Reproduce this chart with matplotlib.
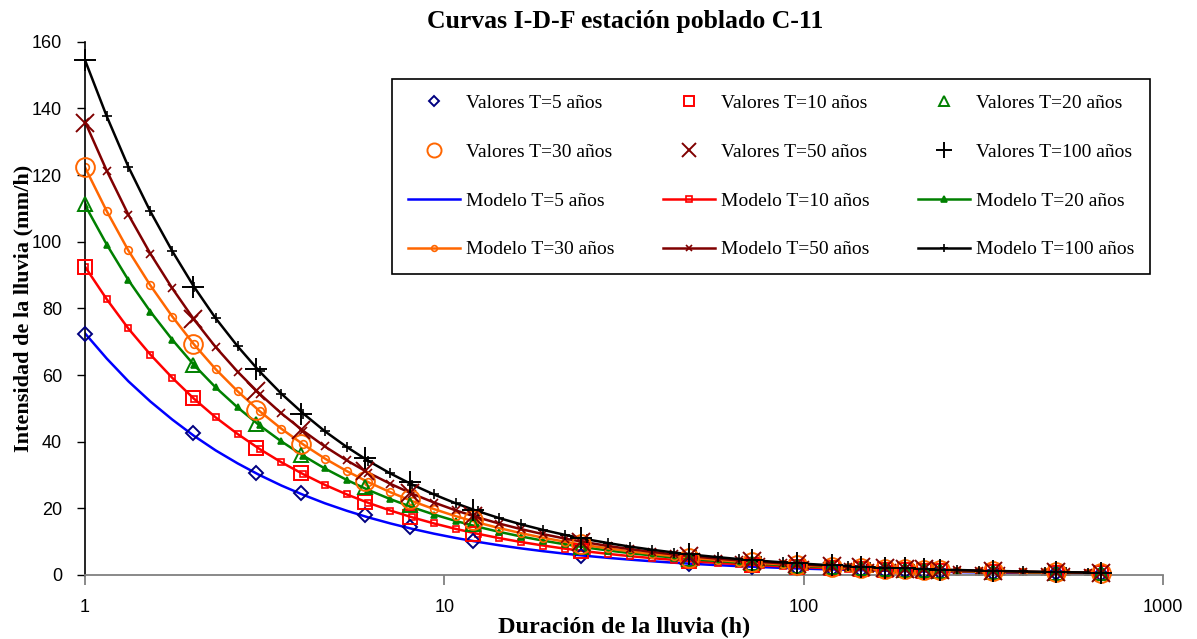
import matplotlib.pyplot as plt
from matplotlib.ticker import NullLocator, FixedLocator, FixedFormatter

# duraciones de los valores observados (h)
dur_valores = [1, 2, 3, 4, 6, 8, 12, 24, 48, 72, 96, 120, 144, 168, 192, 216, 240, 336, 504, 672]

val_t5 = [72.3, 42.5, 30.7, 24.7, 18.0, 14.5, 10.3, 5.8, 3.41, 2.47, 1.97, 1.65, 1.43, 1.27, 1.14, 1.04, 0.95, 0.73, 0.53, 0.42]
val_t10 = [92.3, 53.2, 38.2, 30.5, 21.8, 17.4, 12.3, 7.2, 4.18, 3.02, 2.40, 2.01, 1.74, 1.53, 1.38, 1.25, 1.15, 0.88, 0.64, 0.51]
val_t20 = [111.2, 63.0, 45.3, 36.0, 26.3, 21.0, 15.2, 8.4, 4.83, 3.47, 2.75, 2.30, 1.98, 1.75, 1.57, 1.43, 1.31, 1.00, 0.72, 0.57]
val_t30 = [122.3, 69.3, 49.5, 39.3, 28.2, 22.8, 16.4, 9.2, 5.21, 3.75, 2.96, 2.47, 2.13, 1.88, 1.68, 1.53, 1.40, 1.07, 0.77, 0.61]
val_t50 = [135.7, 76.7, 55.3, 43.5, 31.3, 24.6, 17.8, 10.0, 5.69, 4.08, 3.22, 2.68, 2.31, 2.04, 1.82, 1.66, 1.52, 1.15, 0.83, 0.65]
val_t100 = [154.5, 86.5, 61.8, 48.4, 35.0, 27.8, 19.6, 11.0, 6.22, 4.44, 3.50, 2.91, 2.50, 2.20, 1.97, 1.78, 1.63, 1.24, 0.88, 0.70]

# duraciones del modelo (h)
dur_modelo = [1, 1.15, 1.32, 1.52, 1.75, 2.01, 2.31, 2.66, 3.06, 3.52, 4.05, 4.65, 5.35, 6.15,
              7.08, 8.14, 9.36, 10.76, 12.38, 14.23, 16.37, 18.82, 21.64, 24.89, 28.63, 32.92,
              37.86, 43.54, 50.07, 57.58, 66.21, 76.14, 87.57, 100.7, 115.8, 133.2, 153.2, 176.1,
              202.5, 232.9, 267.9, 308.0, 354.2, 407.4, 468.5, 538.8, 619.6]

mod_t5 = [72.5, 64.92, 58.14, 52.06, 46.62, 41.75, 37.38, 33.48, 29.98, 26.84, 24.04, 21.52, 19.27,
          17.26, 15.46, 13.84, 12.39, 11.10, 9.94, 8.90, 7.97, 7.14, 6.39, 5.72, 5.12, 4.59, 4.11,
          3.68, 3.29, 2.95, 2.64, 2.37, 2.12, 1.90, 1.70, 1.52, 1.36, 1.22, 1.09, 0.98, 0.88, 0.78,
          0.70, 0.63, 0.56, 0.50, 0.45]
mod_t10 = [92.5, 82.71, 73.96, 66.14, 59.14, 52.89, 47.29, 42.29, 37.81, 33.81, 30.24, 27.04, 24.18,
           21.62, 19.33, 17.29, 15.46, 13.82, 12.36, 11.05, 9.88, 8.84, 7.90, 7.07, 6.32, 5.65, 5.05,
           4.52, 4.04, 3.61, 3.23, 2.89, 2.58, 2.31, 2.07, 1.85, 1.65, 1.48, 1.32, 1.18, 1.06, 0.94,
           0.84, 0.75, 0.67, 0.60, 0.54]
mod_t20 = [111.0, 99.12, 88.51, 79.04, 70.58, 63.02, 56.28, 50.26, 44.88, 40.07, 35.78, 31.95, 28.53,
           25.48, 22.75, 20.32, 18.14, 16.20, 14.47, 12.92, 11.54, 10.30, 9.20, 8.21, 7.34, 6.55, 5.85,
           5.22, 4.66, 4.17, 3.72, 3.32, 2.97, 2.65, 2.37, 2.11, 1.89, 1.68, 1.50, 1.34, 1.20, 1.07,
           0.96, 0.85, 0.76, 0.68, 0.61]
mod_t30 = [122.3, 109.13, 97.38, 86.90, 77.54, 69.20, 61.75, 55.10, 49.17, 43.87, 39.15, 34.94, 31.18,
           27.82, 24.82, 22.15, 19.77, 17.64, 15.74, 14.05, 12.53, 11.18, 9.98, 8.91, 7.95, 7.09, 6.33,
           5.65, 5.04, 4.50, 4.01, 3.58, 3.20, 2.85, 2.54, 2.27, 2.03, 1.81, 1.61, 1.44, 1.28, 1.15,
           1.02, 0.91, 0.81, 0.73, 0.65]
mod_t50 = [136.0, 121.27, 108.14, 96.43, 85.99, 76.68, 68.38, 60.97, 54.37, 48.48, 43.23, 38.55, 34.38,
           30.66, 27.34, 24.38, 21.74, 19.38, 17.28, 15.41, 13.74, 12.26, 10.93, 9.75, 8.69, 7.75, 6.91,
           6.16, 5.50, 4.90, 4.37, 3.90, 3.47, 3.10, 2.76, 2.46, 2.20, 1.96, 1.75, 1.56, 1.39, 1.24,
           1.11, 0.99, 0.88, 0.78, 0.70]
mod_t100 = [154.5, 137.58, 122.51, 109.09, 97.15, 86.51, 77.03, 68.60, 61.08, 54.39, 48.44, 43.13, 38.41,
            34.20, 30.45, 27.12, 24.15, 21.50, 19.15, 17.05, 15.18, 13.52, 12.04, 10.72, 9.55, 8.50, 7.57,
            6.74, 6.00, 5.35, 4.76, 4.24, 3.78, 3.36, 2.99, 2.67, 2.37, 2.11, 1.88, 1.68, 1.49, 1.33,
            1.18, 1.05, 0.94, 0.84, 0.74]

periodos = ['5', '10', '20', '30', '50', '100']
valores = [val_t5, val_t10, val_t20, val_t30, val_t50, val_t100]
modelos = [mod_t5, mod_t10, mod_t20, mod_t30, mod_t50, mod_t100]

colores_val = ['#000080', '#FF0000', '#008000', '#FF6600', '#800000', '#000000']
colores_mod = ['#0000FF', '#FF0000', '#008000', '#FF6600', '#800000', '#000000']
marcas_val = [('D', 7), ('s', 10), ('^', 10.5), ('o', 13.5), ('x', 12.5), ('+', 16)]
marcas_mod = [(None, 0), ('s', 5), ('^', 5), ('o', 5.5), ('x', 5.5), ('+', 7.5)]

serif = 'Liberation Serif'
sans = 'Liberation Sans'

fig = plt.figure(figsize=(11.97, 6.39), dpi=100)
ax = fig.add_axes([0.0710, 0.1002, 0.9006, 0.8345])

h_val = []
h_mod = []
for i in range(6):
    mk, ms = marcas_mod[i]
    lm, = ax.plot(dur_modelo, modelos[i], color=colores_mod[i], lw=1.8,
                  marker=mk, markersize=ms, markerfacecolor='none' if mk in ('s', 'o') else colores_mod[i],
                  markeredgewidth=1.2, label='Modelo T=%s años' % periodos[i], zorder=2)
    h_mod.append(lm)
for i in range(6):
    mk, ms = marcas_val[i]
    lv, = ax.plot(dur_valores, valores[i], linestyle='none', marker=mk, markersize=ms,
                  markerfacecolor='none', markeredgecolor=colores_val[i], markeredgewidth=1.4,
                  label='Valores T=%s años' % periodos[i], zorder=3, clip_on=False)
    h_val.append(lv)

ax.set_xscale('log')
ax.set_xlim(1, 1000)
ax.set_ylim(0, 160)
ax.xaxis.set_major_locator(FixedLocator([1, 10, 100, 1000]))
ax.xaxis.set_major_formatter(FixedFormatter(['1', '10', '100', '1000']))
ax.xaxis.set_minor_locator(NullLocator())
ax.set_yticks(range(0, 161, 20))

for s in ['top', 'right']:
    ax.spines[s].set_visible(False)
ax.spines['bottom'].set_color('#808080')
ax.spines['bottom'].set_linewidth(1.3)
ax.spines['left'].set_linewidth(1.2)
ax.tick_params(axis='x', direction='out', length=7, width=1.3, color='#808080', pad=10)
ax.tick_params(axis='y', direction='out', length=6, width=1.0, pad=10.5)
for lab in ax.get_xticklabels() + ax.get_yticklabels():
    lab.set_fontfamily(sans)
    lab.set_fontsize(13)

ax.set_xlabel('Duración de la lluvia (h)', fontfamily=serif, fontweight='bold', fontsize=17.5)
ax.set_ylabel('Intensidad de la lluvia (mm/h)', fontfamily=serif, fontweight='bold', fontsize=16)
ax.xaxis.set_label_coords(0.5, -0.078)
ax.yaxis.set_label_coords(-0.048, 0.5)
fig.text(0.522, 0.967, 'Curvas I-D-F estación poblado C-11', ha='center', va='center',
         fontfamily=serif, fontweight='bold', fontsize=18.5)

# orden por filas como en el original (legend de matplotlib llena por columnas)
handles = []
for c in range(3):
    handles += [h_val[c], h_val[c + 3], h_mod[c], h_mod[c + 3]]
leg = ax.legend(handles=handles, labels=[h.get_label() for h in handles], ncol=3,
                loc='upper left', bbox_to_anchor=(392 / 1197, 1 - 79 / 639, 758 / 1197, 0.0),
                bbox_transform=fig.transFigure, mode='expand',
                prop={'family': serif, 'size': 14}, frameon=True, fancybox=False,
                edgecolor='black', framealpha=1, markerscale=0.75, handlelength=2.7,
                handletextpad=0.3, labelspacing=1.6, borderpad=0.8, borderaxespad=0)
leg.get_frame().set_linewidth(1.2)

fig.savefig('out.png', dpi=100)
